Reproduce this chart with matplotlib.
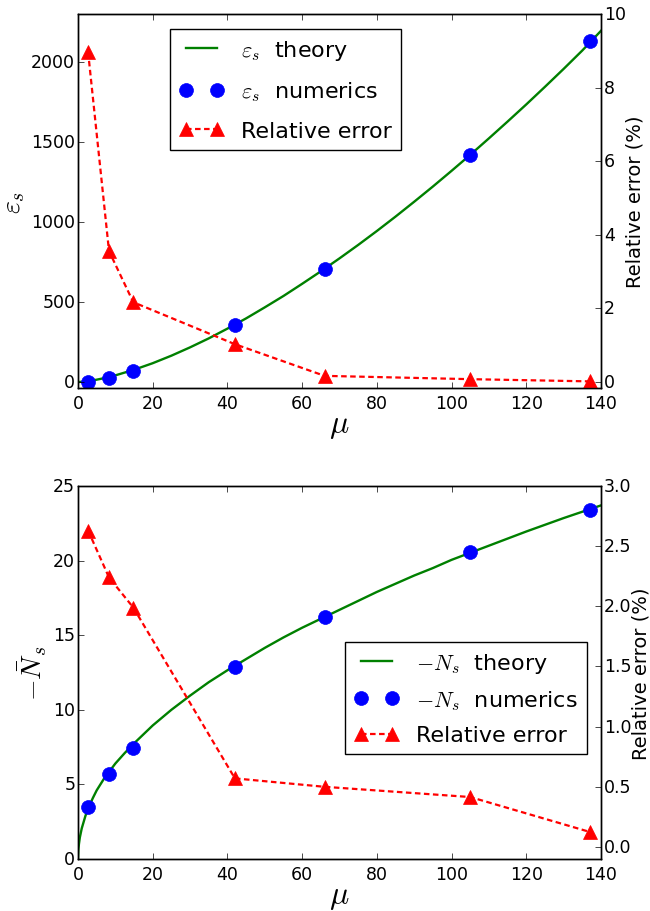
import numpy as np
import matplotlib
matplotlib.use("Agg")
import matplotlib.pyplot as plt

# Energy panel
mu_num = [2.7, 8.3, 14.8, 42.0, 66.0, 105.0, 137.0]
eps_num = [3, 25, 70, 354, 706, 1420, 2133]
eps_err = [8.97, 3.56, 2.17, 1.03, 0.17, 0.08, 0.02]
mu_th = [0, 2.5, 5, 7.5, 10, 15, 20, 25, 30, 35, 40, 45, 50, 55, 60, 65, 70, 75, 80,
         85, 90, 95, 100, 105, 110, 115, 120, 125, 130, 135, 140]
eps_th = [0, 5, 15, 27, 42, 77, 118, 165, 217, 273, 334, 398, 467, 538, 614, 692, 773,
          857, 944, 1034, 1127, 1222, 1320, 1420, 1523, 1628, 1735, 1845, 1957, 2072, 2195]

# Particle number panel
n_num = [3.47, 5.70, 7.46, 12.89, 16.2, 20.6, 23.39]
n_err = [2.63, 2.24, 1.99, 0.57, 0.50, 0.415, 0.125]
mu_th2 = [0, 0.1, 0.25, 0.5, 1, 2, 3, 4, 5, 7, 10, 12.5, 15, 20, 25, 30, 35, 40, 45, 50,
          55, 60, 65, 70, 75, 80, 85, 90, 95, 100, 110, 120, 130, 140]
n_th = [0, 0.65, 1.0, 1.45, 2.05, 2.9, 3.55, 4.1, 4.6, 5.4, 6.4, 7.1, 7.75, 8.95, 10.0,
        10.95, 11.85, 12.65, 13.4, 14.15, 14.85, 15.5, 16.1, 16.7, 17.3, 17.9, 18.45,
        19.0, 19.5, 20.05, 21.0, 21.95, 22.85, 23.7]

plt.style.use("classic")
plt.rcParams["mathtext.fontset"] = "cm"
plt.rcParams["figure.facecolor"] = "white"
plt.rcParams["savefig.facecolor"] = "white"

fig = plt.figure(figsize=(6.5, 9.12), dpi=100)
ax1 = fig.add_axes([0.12, 1 - 389 / 912, 0.8046, (389 - 15) / 912])
ax3 = fig.add_axes([0.12, 1 - 860 / 912, 0.8046, (860 - 487) / 912])


def panel(ax, x_th, y_th, y_num, y_err, lab, ylab, ylim, ylim2, yticks2, anchor, spacing):
    l1, = ax.plot(x_th, y_th, color="green", lw=1.7, label=lab + "  theory")
    l2, = ax.plot(mu_num, y_num, "o", color="blue", mec="blue", ms=10,
                  label=lab + "  numerics")
    ax.set_xlim(0, 140)
    ax.set_ylim(*ylim)
    ax.set_xlabel(r"$\mu$", fontsize=23, labelpad=-2)
    ax.set_ylabel(ylab, fontsize=20, labelpad=3)
    ax.tick_params(labelsize=12.5)
    ax.tick_params(axis="y", pad=2)
    ax.tick_params(axis="x", pad=4)
    ax.yaxis.tick_left()
    axr = ax.twinx()
    l3, = axr.plot(mu_num, y_err, "^--", color="red", mec="red", ms=10, lw=1.6,
                   dashes=(4, 2.5), label="Relative error")
    axr.set_ylim(*ylim2)
    axr.set_yticks(yticks2)
    axr.set_xlim(0, 140)
    axr.set_ylabel("Relative error (%)", fontsize=14, labelpad=0)
    axr.tick_params(labelsize=12.5, pad=2)
    axr.legend(handles=[l1, l2, l3], loc="upper left", numpoints=2,
               bbox_to_anchor=anchor, bbox_transform=fig.transFigure,
               borderaxespad=0, fontsize=16, labelspacing=spacing)
    return axr


panel(ax1, mu_th, eps_th, eps_num, eps_err, r"$\varepsilon_s$", r"$\varepsilon_s$",
      (-37, 2300), (-0.16, 10), [0, 2, 4, 6, 8, 10], (170 / 650, 1 - 30 / 912), 0.8)
ax1.set_yticks([0, 500, 1000, 1500, 2000])
panel(ax3, mu_th2, n_th, n_num, n_err, r"$-N_s$", r"$-\bar{N}_s$",
      (0, 25), (-0.1, 3.0), [0.0, 0.5, 1.0, 1.5, 2.0, 2.5, 3.0],
      (345 / 650, 1 - 643 / 912), 0.6)

fig.savefig("out.png", dpi=100)
